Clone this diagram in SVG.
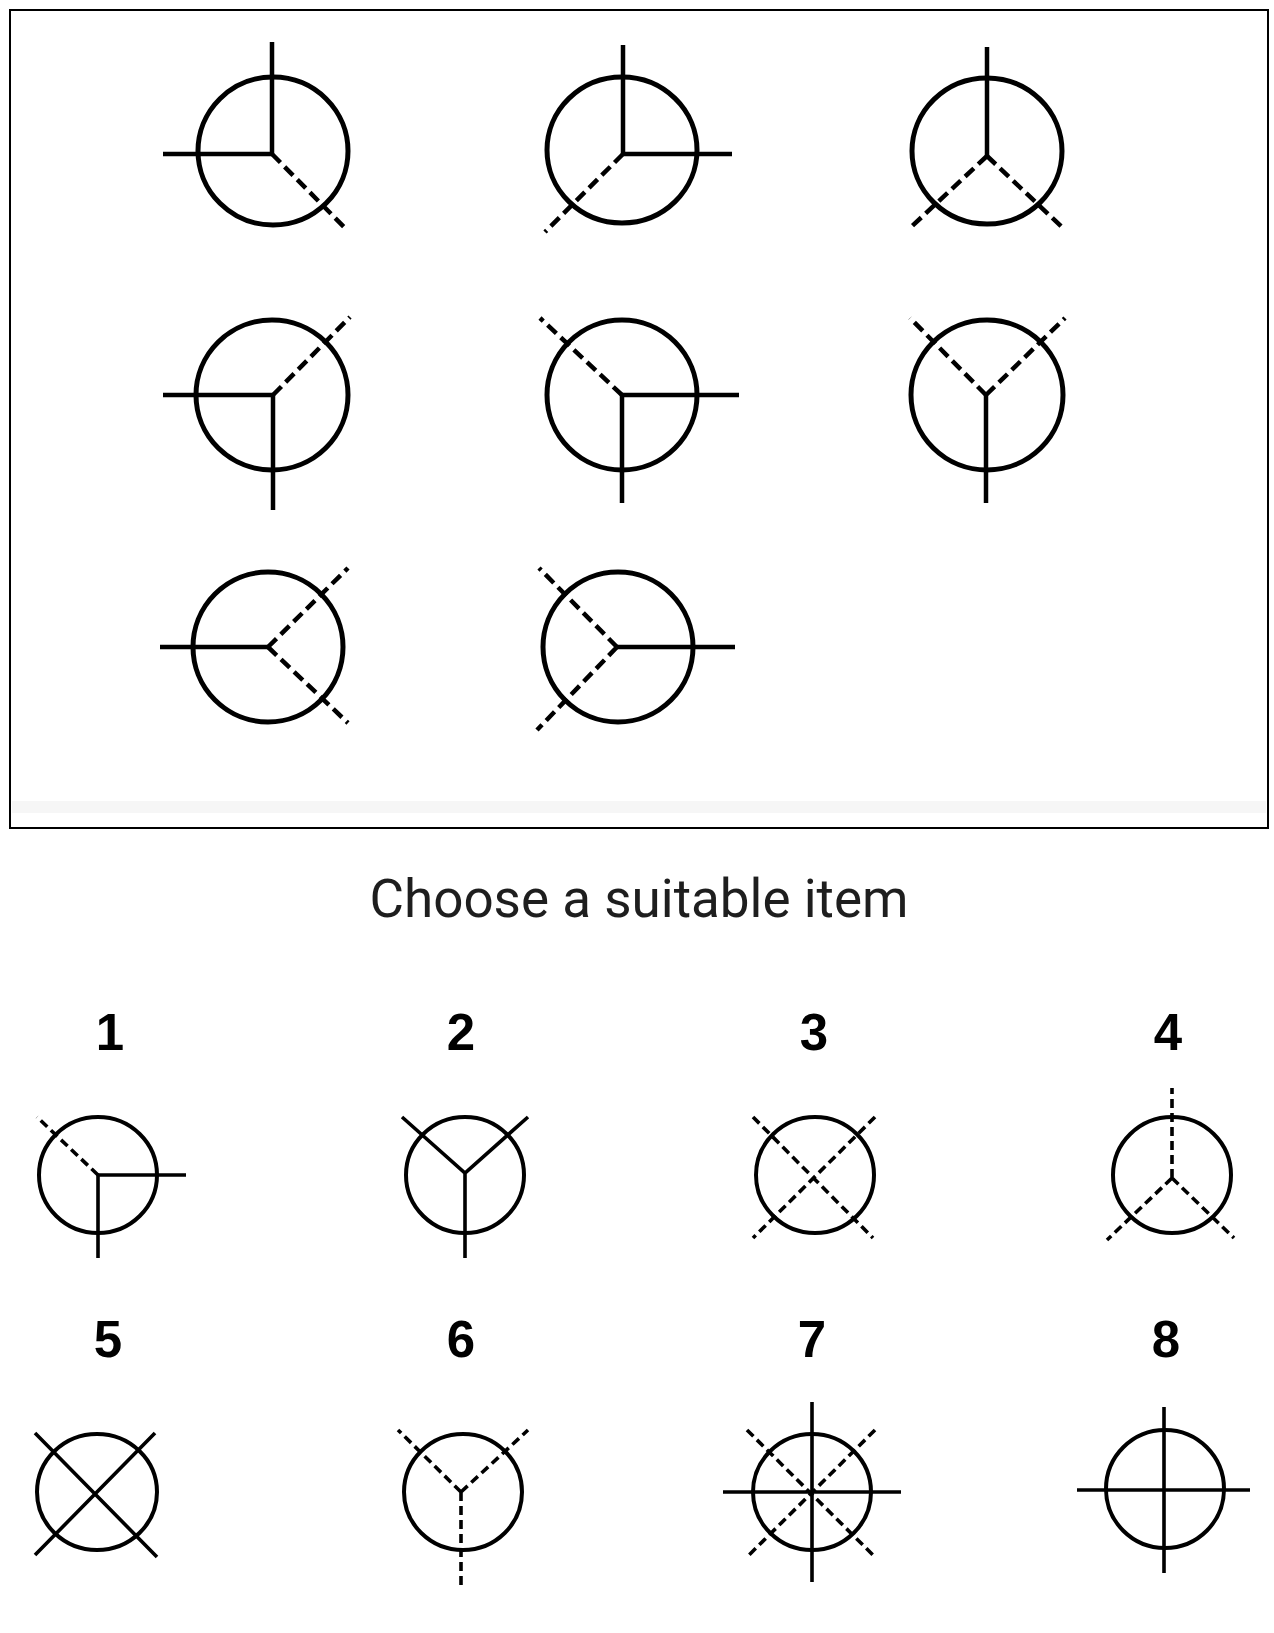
<svg xmlns="http://www.w3.org/2000/svg" width="1274" height="1633" viewBox="0 0 1274 1633">
<style>
.ring{fill:none;stroke:#000;stroke-width:5}
.s{fill:none;stroke:#000;stroke-width:4.5;stroke-linecap:butt}
.d{fill:none;stroke:#000;stroke-width:4.5;stroke-dasharray:12 6}
.ring2{fill:none;stroke:#000;stroke-width:4}
.s2{fill:none;stroke:#000;stroke-width:3.6}
.d2{fill:none;stroke:#000;stroke-width:3.6;stroke-dasharray:9 5}
.num{font-family:"Liberation Sans",Arial,sans-serif;font-weight:bold;font-size:51px;fill:#000;text-anchor:middle}
.title{font-family:Roboto,"Liberation Sans",sans-serif;font-size:53px;fill:#1e1e1e;text-anchor:middle}
</style>
<rect width="1274" height="1633" fill="#fff"/>
<g id="matrix">
<rect x="10" y="10" width="1258" height="818" fill="#fff" stroke="#000" stroke-width="2"/>
<rect x="12" y="801" width="1254" height="12" fill="#f6f6f6"/>
</g>
<g id="a1">
<ellipse class="ring" cx="273" cy="151" rx="75" ry="74"/>
<path class="s" d="M272 42V154H163"/>
<path class="d" d="M272 154L347 230"/>
</g>
<g id="a2">
<ellipse class="ring" cx="622" cy="150" rx="75" ry="73"/>
<path class="s" d="M623 45V154H732"/>
<path class="d" d="M623 154L545 232"/>
</g>
<g id="a3">
<ellipse class="ring" cx="987" cy="151" rx="75" ry="73"/>
<path class="s" d="M987 47V156"/>
<path class="d" d="M987 156L909 229M987 156L1064 229"/>
</g>
<g id="b1">
<ellipse class="ring" cx="272" cy="395" rx="76" ry="75"/>
<path class="s" d="M163 395H273V510"/>
<path class="d" d="M273 395L350 317"/>
</g>
<g id="b2">
<ellipse class="ring" cx="622" cy="395" rx="75" ry="75"/>
<path class="s" d="M739 395H622V503"/>
<path class="d" d="M622 395L540 318"/>
</g>
<g id="b3">
<ellipse class="ring" cx="987" cy="395" rx="76" ry="75"/>
<path class="s" d="M986 395V503"/>
<path class="d" d="M986 395L910 318M986 395L1065 318"/>
</g>
<g id="c1">
<ellipse class="ring" cx="268" cy="647" rx="75" ry="75"/>
<path class="s" d="M160 647H268"/>
<path class="d" d="M268 647L348 568M268 647L348 723"/>
</g>
<g id="c2">
<ellipse class="ring" cx="618" cy="647" rx="75" ry="75"/>
<path class="s" d="M617 647H735"/>
<path class="d" d="M617 647L539 568M617 647L537 730"/>
</g>
<text class="title" x="639" y="917">Choose a suitable item</text>
<g id="opt1">
<text class="num" x="110" y="1050">1</text>
<ellipse class="ring2" cx="98" cy="1175" rx="59" ry="58"/>
<path class="s2" d="M186 1175H98V1258"/>
<path class="d2" d="M98 1175L37 1117"/>
</g>
<g id="opt2">
<text class="num" x="461" y="1050">2</text>
<ellipse class="ring2" cx="465" cy="1175" rx="59" ry="58"/>
<path class="s2" d="M402 1117L465 1173L528 1117M465 1173V1258"/>
</g>
<g id="opt3">
<text class="num" x="814" y="1050">3</text>
<ellipse class="ring2" cx="815" cy="1175" rx="59" ry="58"/>
<path class="d2" d="M753 1117L873 1238M875 1117L753 1238"/>
</g>
<g id="opt4">
<text class="num" x="1168" y="1050">4</text>
<ellipse class="ring2" cx="1172" cy="1175" rx="59" ry="58"/>
<path class="d2" d="M1172 1178V1088M1172 1178L1107 1240M1172 1178L1234 1238"/>
</g>
<g id="opt5">
<text class="num" x="108" y="1357">5</text>
<ellipse class="ring2" cx="97" cy="1492" rx="60" ry="58"/>
<path class="s2" d="M35 1433L157 1557M155 1433L35 1555"/>
</g>
<g id="opt6">
<text class="num" x="461" y="1357">6</text>
<ellipse class="ring2" cx="463" cy="1492" rx="59" ry="58"/>
<path class="d2" d="M461 1492L398 1430M461 1492L528 1430M461 1492V1585"/>
</g>
<g id="opt7">
<text class="num" x="812" y="1357">7</text>
<ellipse class="ring2" cx="812" cy="1492" rx="59" ry="58"/>
<path class="s2" d="M812 1402V1582M723 1492H901"/>
<path class="d2" d="M747 1430L875 1557M875 1430L749 1555"/>
</g>
<g id="opt8">
<text class="num" x="1166" y="1357">8</text>
<ellipse class="ring2" cx="1165" cy="1489" rx="59" ry="59"/>
<path class="s2" d="M1164 1407V1573M1077 1490H1250"/>
</g>
</svg>
